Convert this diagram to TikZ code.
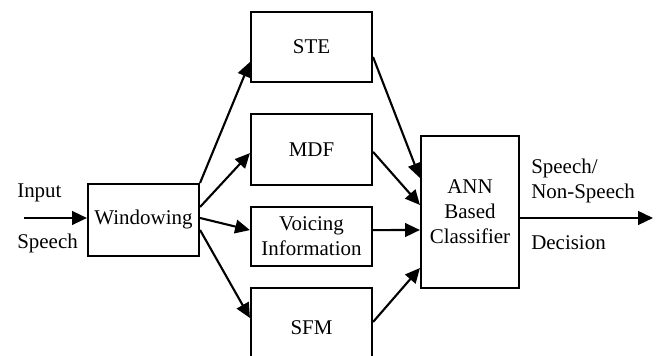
\documentclass[tikz,border=0pt]{standalone}
\usepackage{fontspec}
\setmainfont{Liberation Serif}
\usepackage{tikz}
\usetikzlibrary{arrows.meta, calc}

\tikzset{
    block/.style={rectangle, draw=black, line width=1.5pt, align=center, inner sep=1pt},
    flow/.style={line width=1.5pt, -{Triangle[length=0.37cm, width=0.34cm]}},
    lbl/.style={anchor=west, inner sep=0pt, align=left}
}

\begin{document}
\begin{tikzpicture}[font=\fontsize{14.9}{17.8}\selectfont]
    \useasboundingbox (0,0) rectangle (16.475,8.9);

    % processing blocks
    \node[block, minimum width=2.775cm, minimum height=1.8cm] (win) at (3.5875,3.4) {Windowing};
    \node[block, minimum width=3.025cm, minimum height=1.75cm] (ste) at (7.7875,7.725) {STE};
    \node[block, minimum width=3.025cm, minimum height=1.775cm] (mdf) at (7.7875,5.1625) {MDF};
    \node[block, minimum width=3.025cm, minimum height=1.475cm] (voice) at (7.7875,2.9875) {Voicing\\Information};
    \node[block, minimum width=3.025cm, minimum height=2cm] (sfm) at (7.7875,0.7) {SFM};
    \node[block, minimum width=2.45cm, minimum height=3.8cm] (ann) at (11.75,3.6) {ANN\\Based\\Classifier};

    % input side
    \coordinate (in) at (0.6,3.45);
    \node[lbl] (inlbl) at (0.425,4.075) {Input};
    \node[lbl] (splbl) at (0.425,2.825) {Speech};
    \draw[flow] (in) -- (in -| win.west);

    % windowing to features
    \draw[flow] (win.north east) -- ($(ste.west)+(0,-0.375)$);
    \draw[flow] ($(win.east)+(0,0.325)$) -- ($(mdf.west)+(0,-0.09)$);
    \draw[flow] ($(win.east)+(0,0.05)$) -- ($(voice.west)+(0,0.16)$);
    \draw[flow] ($(win.east)+(0,-0.25)$) -- ($(sfm.west)+(0,0.25)$);

    % features to classifier
    \draw[flow] ($(ste.east)+(0,-0.25)$) -- ($(ann.west)+(0,0.85)$);
    \draw[flow] ($(mdf.east)+(0,-0.06)$) -- ($(ann.west)+(0,0.175)$);
    \draw[flow] ($(voice.east)+(0,0.16)$) -- ($(ann.west)+(0,-0.45)$);
    \draw[flow] ($(sfm.east)+(0,0.15)$) -- ($(ann.west)+(0,-1.4)$);

    % output side
    \coordinate (out) at (16.325,3.45);
    \draw[flow] (ann.east |- out) -- (out);
    \node[lbl] (outlbl) at (13.275,4.3875) {Speech/\\Non-Speech};
    \node[lbl] (declbl) at (13.275,2.825) {Decision};
\end{tikzpicture}
\end{document}
